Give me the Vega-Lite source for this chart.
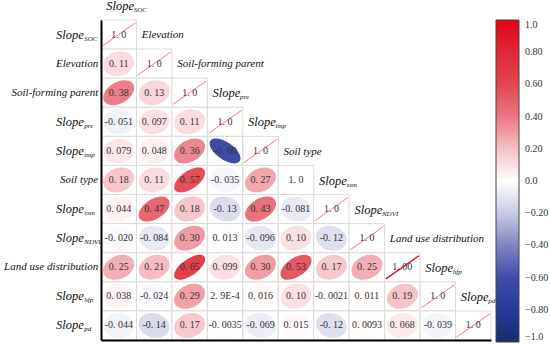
{
  "$schema": "https://vega.github.io/schema/vega-lite/v6.json",
  "width": 390,
  "height": 320,
  "autosize": {"type": "none"},
  "padding": {"left": 101, "top": 20, "right": 59, "bottom": 5},
  "background": "white",
  "config": {
    "view": {"stroke": null},
    "axis": {"ticks": false, "labels": false, "grid": false, "domainColor": "#000", "domainWidth": 2},
    "text": {"font": "Liberation Serif"}
  },
  "datasets": {
    "cells": [
      {"row": "Slope_SOC", "col": "Slope_SOC", "r": 1, "label": "1. 0"},
      {"row": "Elevation", "col": "Slope_SOC", "r": 0.11, "label": "0. 11"},
      {"row": "Elevation", "col": "Elevation", "r": 1, "label": "1. 0"},
      {"row": "Soil-forming parent", "col": "Slope_SOC", "r": 0.38, "label": "0. 38"},
      {"row": "Soil-forming parent", "col": "Elevation", "r": 0.13, "label": "0. 13"},
      {"row": "Soil-forming parent", "col": "Soil-forming parent", "r": 1, "label": "1. 0"},
      {"row": "Slope_pre", "col": "Slope_SOC", "r": -0.051, "label": "-0. 051"},
      {"row": "Slope_pre", "col": "Elevation", "r": 0.097, "label": "0. 097"},
      {"row": "Slope_pre", "col": "Soil-forming parent", "r": 0.11, "label": "0. 11"},
      {"row": "Slope_pre", "col": "Slope_pre", "r": 1, "label": "1. 0"},
      {"row": "Slope_tmp", "col": "Slope_SOC", "r": 0.079, "label": "0. 079"},
      {"row": "Slope_tmp", "col": "Elevation", "r": 0.048, "label": "0. 048"},
      {"row": "Slope_tmp", "col": "Soil-forming parent", "r": 0.36, "label": "0. 36"},
      {"row": "Slope_tmp", "col": "Slope_pre", "r": -0.6, "label": "-0. 60"},
      {"row": "Slope_tmp", "col": "Slope_tmp", "r": 1, "label": "1. 0"},
      {"row": "Soil type", "col": "Slope_SOC", "r": 0.18, "label": "0. 18"},
      {"row": "Soil type", "col": "Elevation", "r": 0.11, "label": "0. 11"},
      {"row": "Soil type", "col": "Soil-forming parent", "r": 0.57, "label": "0. 57"},
      {"row": "Soil type", "col": "Slope_pre", "r": -0.035, "label": "-0. 035"},
      {"row": "Soil type", "col": "Slope_tmp", "r": 0.27, "label": "0. 27"},
      {"row": "Soil type", "col": "Soil type", "r": 1, "label": "1. 0"},
      {"row": "Slope_ssm", "col": "Slope_SOC", "r": 0.044, "label": "0. 044"},
      {"row": "Slope_ssm", "col": "Elevation", "r": 0.47, "label": "0. 47"},
      {"row": "Slope_ssm", "col": "Soil-forming parent", "r": 0.18, "label": "0. 18"},
      {"row": "Slope_ssm", "col": "Slope_pre", "r": -0.13, "label": "-0. 13"},
      {"row": "Slope_ssm", "col": "Slope_tmp", "r": 0.43, "label": "0. 43"},
      {"row": "Slope_ssm", "col": "Soil type", "r": -0.081, "label": "-0. 081"},
      {"row": "Slope_ssm", "col": "Slope_ssm", "r": 1, "label": "1. 0"},
      {"row": "Slope_NDVI", "col": "Slope_SOC", "r": -0.02, "label": "-0. 020"},
      {"row": "Slope_NDVI", "col": "Elevation", "r": -0.084, "label": "-0. 084"},
      {"row": "Slope_NDVI", "col": "Soil-forming parent", "r": 0.3, "label": "0. 30"},
      {"row": "Slope_NDVI", "col": "Slope_pre", "r": 0.013, "label": "0. 013"},
      {"row": "Slope_NDVI", "col": "Slope_tmp", "r": -0.096, "label": "-0. 096"},
      {"row": "Slope_NDVI", "col": "Soil type", "r": 0.1, "label": "0. 10"},
      {"row": "Slope_NDVI", "col": "Slope_ssm", "r": -0.12, "label": "-0. 12"},
      {"row": "Slope_NDVI", "col": "Slope_NDVI", "r": 1, "label": "1. 0"},
      {"row": "Land use distribution", "col": "Slope_SOC", "r": 0.25, "label": "0. 25"},
      {"row": "Land use distribution", "col": "Elevation", "r": 0.21, "label": "0. 21"},
      {"row": "Land use distribution", "col": "Soil-forming parent", "r": 0.65, "label": "0. 65"},
      {"row": "Land use distribution", "col": "Slope_pre", "r": 0.099, "label": "0. 099"},
      {"row": "Land use distribution", "col": "Slope_tmp", "r": 0.3, "label": "0. 30"},
      {"row": "Land use distribution", "col": "Soil type", "r": 0.53, "label": "0. 53"},
      {"row": "Land use distribution", "col": "Slope_ssm", "r": 0.17, "label": "0. 17"},
      {"row": "Land use distribution", "col": "Slope_NDVI", "r": 0.25, "label": "0. 25"},
      {"row": "Land use distribution", "col": "Land use distribution", "r": 1, "label": "1. 00"},
      {"row": "Slope_hfp", "col": "Slope_SOC", "r": 0.038, "label": "0. 038"},
      {"row": "Slope_hfp", "col": "Elevation", "r": -0.024, "label": "-0. 024"},
      {"row": "Slope_hfp", "col": "Soil-forming parent", "r": 0.29, "label": "0. 29"},
      {"row": "Slope_hfp", "col": "Slope_pre", "r": 0.00029, "label": "2. 9E-4"},
      {"row": "Slope_hfp", "col": "Slope_tmp", "r": 0.016, "label": "0. 016"},
      {"row": "Slope_hfp", "col": "Soil type", "r": 0.1, "label": "0. 10"},
      {"row": "Slope_hfp", "col": "Slope_ssm", "r": -0.0021, "label": "-0. 0021"},
      {"row": "Slope_hfp", "col": "Slope_NDVI", "r": 0.011, "label": "0. 011"},
      {"row": "Slope_hfp", "col": "Land use distribution", "r": 0.19, "label": "0. 19"},
      {"row": "Slope_hfp", "col": "Slope_hfp", "r": 1, "label": "1. 0"},
      {"row": "Slope_pd", "col": "Slope_SOC", "r": -0.044, "label": "-0. 044"},
      {"row": "Slope_pd", "col": "Elevation", "r": -0.14, "label": "-0. 14"},
      {"row": "Slope_pd", "col": "Soil-forming parent", "r": 0.17, "label": "0. 17"},
      {"row": "Slope_pd", "col": "Slope_pre", "r": -0.0035, "label": "-0. 0035"},
      {"row": "Slope_pd", "col": "Slope_tmp", "r": -0.069, "label": "-0. 069"},
      {"row": "Slope_pd", "col": "Soil type", "r": 0.015, "label": "0. 015"},
      {"row": "Slope_pd", "col": "Slope_ssm", "r": -0.12, "label": "-0. 12"},
      {"row": "Slope_pd", "col": "Slope_NDVI", "r": 0.0093, "label": "0. 0093"},
      {"row": "Slope_pd", "col": "Land use distribution", "r": 0.068, "label": "0. 068"},
      {"row": "Slope_pd", "col": "Slope_hfp", "r": -0.039, "label": "-0. 039"},
      {"row": "Slope_pd", "col": "Slope_pd", "r": 1, "label": "1. 0"}
    ],
    "vars": [
      {"var": "Slope_SOC", "main": "Slope", "sub": "SOC"},
      {"var": "Elevation", "main": "Elevation", "sub": ""},
      {"var": "Soil-forming parent", "main": "Soil-forming parent", "sub": ""},
      {"var": "Slope_pre", "main": "Slope", "sub": "pre"},
      {"var": "Slope_tmp", "main": "Slope", "sub": "tmp"},
      {"var": "Soil type", "main": "Soil type", "sub": ""},
      {"var": "Slope_ssm", "main": "Slope", "sub": "ssm"},
      {"var": "Slope_NDVI", "main": "Slope", "sub": "NDVI"},
      {"var": "Land use distribution", "main": "Land use distribution", "sub": ""},
      {"var": "Slope_hfp", "main": "Slope", "sub": "hfp"},
      {"var": "Slope_pd", "main": "Slope", "sub": "pd"}
    ]
  },
  "layer": [
    {
      "data": {"name": "cells"},
      "mark": {"type": "rect", "fill": "white", "stroke": "#dadada", "strokeWidth": 1},
      "encoding": {
        "x": {"field": "col", "type": "nominal", "title": null, "scale": {"domain": ["Slope_SOC","Elevation","Soil-forming parent","Slope_pre","Slope_tmp","Soil type","Slope_ssm","Slope_NDVI","Land use distribution","Slope_hfp","Slope_pd"], "paddingInner": 0, "paddingOuter": 0}},
        "y": {"field": "row", "type": "nominal", "title": null, "scale": {"domain": ["Slope_SOC","Elevation","Soil-forming parent","Slope_pre","Slope_tmp","Soil type","Slope_ssm","Slope_NDVI","Land use distribution","Slope_hfp","Slope_pd"], "paddingInner": 0, "paddingOuter": 0}}
      }
    },
    {
      "data": {"name": "cells"},
      "transform": [{"filter": "datum.row != datum.col"}],
      "mark": {
        "type": "point", "filled": true, "opacity": 1, "strokeWidth": 0, "size": 961,
        "shape": {"expr": "'M'+round(10000*sqrt((1+datum.r)/2))/10000+','+round(-8060*sqrt((1+datum.r)/2))/10000+' C'+round(10000*(sqrt((1+datum.r)/2)-0.5523*sqrt((1-datum.r)/2)))/10000+','+round(-8060*(sqrt((1+datum.r)/2)+0.5523*sqrt((1-datum.r)/2)))/10000+' '+round(10000*(0.5523*sqrt((1+datum.r)/2)-sqrt((1-datum.r)/2)))/10000+','+round(-8060*(sqrt((1-datum.r)/2)+0.5523*sqrt((1+datum.r)/2)))/10000+' '+round(-10000*sqrt((1-datum.r)/2))/10000+','+round(-8060*sqrt((1-datum.r)/2))/10000+' C'+round(-10000*(sqrt((1-datum.r)/2)+0.5523*sqrt((1+datum.r)/2)))/10000+','+round(8060*(0.5523*sqrt((1+datum.r)/2)-sqrt((1-datum.r)/2)))/10000+' '+round(-10000*(sqrt((1+datum.r)/2)+0.5523*sqrt((1-datum.r)/2)))/10000+','+round(8060*(sqrt((1+datum.r)/2)-0.5523*sqrt((1-datum.r)/2)))/10000+' '+round(-10000*sqrt((1+datum.r)/2))/10000+','+round(8060*sqrt((1+datum.r)/2))/10000+' C'+round(-10000*(sqrt((1+datum.r)/2)-0.5523*sqrt((1-datum.r)/2)))/10000+','+round(8060*(sqrt((1+datum.r)/2)+0.5523*sqrt((1-datum.r)/2)))/10000+' '+round(-10000*(0.5523*sqrt((1+datum.r)/2)-sqrt((1-datum.r)/2)))/10000+','+round(8060*(sqrt((1-datum.r)/2)+0.5523*sqrt((1+datum.r)/2)))/10000+' '+round(10000*sqrt((1-datum.r)/2))/10000+','+round(8060*sqrt((1-datum.r)/2))/10000+' C'+round(10000*(sqrt((1-datum.r)/2)+0.5523*sqrt((1+datum.r)/2)))/10000+','+round(-8060*(0.5523*sqrt((1+datum.r)/2)-sqrt((1-datum.r)/2)))/10000+' '+round(10000*(sqrt((1+datum.r)/2)+0.5523*sqrt((1-datum.r)/2)))/10000+','+round(-8060*(sqrt((1+datum.r)/2)-0.5523*sqrt((1-datum.r)/2)))/10000+' '+round(10000*sqrt((1+datum.r)/2))/10000+','+round(-8060*sqrt((1+datum.r)/2))/10000+'Z'"}
      },
      "encoding": {
        "x": {"field": "col", "type": "nominal", "title": null, "scale": {"domain": ["Slope_SOC","Elevation","Soil-forming parent","Slope_pre","Slope_tmp","Soil type","Slope_ssm","Slope_NDVI","Land use distribution","Slope_hfp","Slope_pd"], "paddingInner": 0, "paddingOuter": 0}},
        "y": {"field": "row", "type": "nominal", "title": null, "scale": {"domain": ["Slope_SOC","Elevation","Soil-forming parent","Slope_pre","Slope_tmp","Soil type","Slope_ssm","Slope_NDVI","Land use distribution","Slope_hfp","Slope_pd"], "paddingInner": 0, "paddingOuter": 0}},
        "color": {
          "field": "r", "type": "quantitative",
          "scale": {
            "type": "linear",
            "domain": [-1, -0.8, -0.6, -0.4, -0.2, 0, 0.2, 0.4, 0.6, 0.8, 1],
            "range": ["#1b2a6e", "#253b98", "#3f4ca6", "#7e85c2", "#c8cae4", "#ffffff", "#f6c0c6", "#ea7882", "#e2464f", "#e0283a", "#e50014"],
            "interpolate": "rgb"
          },
          "legend": {
            "title": null, "orient": "none", "legendX": 395, "legendY": 0, "direction": "vertical",
            "gradientLength": 322, "gradientThickness": 23, "gradientStrokeColor": "#444", "gradientStrokeWidth": 1,
            "values": [1, 0.8, 0.6, 0.4, 0.2, 0, -0.2, -0.4, -0.6, -0.8, -1],
            "labelExpr": "datum.value == 0 || abs(datum.value) == 1 ? format(datum.value, '.1f') : format(datum.value, '.2f')",
            "labelFont": "Liberation Serif", "labelFontSize": 10, "labelColor": "#333", "labelOffset": 6,
            "labelOverlap": false, "labelBaseline": "middle", "padding": 0
          }
        }
      }
    },
    {
      "data": {"name": "cells"},
      "transform": [{"filter": "datum.row == datum.col && datum.row != 'Soil type'"}],
      "mark": {"type": "point", "filled": false, "opacity": 1, "size": 1089, "shape": "M-1,0.7L1,-0.7"},
      "encoding": {
        "x": {"field": "col", "type": "nominal", "title": null, "scale": {"domain": ["Slope_SOC","Elevation","Soil-forming parent","Slope_pre","Slope_tmp","Soil type","Slope_ssm","Slope_NDVI","Land use distribution","Slope_hfp","Slope_pd"], "paddingInner": 0, "paddingOuter": 0}},
        "y": {"field": "row", "type": "nominal", "title": null, "scale": {"domain": ["Slope_SOC","Elevation","Soil-forming parent","Slope_pre","Slope_tmp","Soil type","Slope_ssm","Slope_NDVI","Land use distribution","Slope_hfp","Slope_pd"], "paddingInner": 0, "paddingOuter": 0}},
        "stroke": {"condition": {"test": "datum.row == 'Land use distribution'", "value": "#d0101e"}, "value": "#f26b73"},
        "strokeWidth": {"condition": {"test": "datum.row == 'Land use distribution'", "value": 1.4}, "value": 0.9}
      }
    },
    {
      "data": {"name": "cells"},
      "mark": {"type": "text", "fontSize": 10, "color": "#333", "baseline": "middle"},
      "encoding": {
        "x": {"field": "col", "type": "nominal", "title": null, "scale": {"domain": ["Slope_SOC","Elevation","Soil-forming parent","Slope_pre","Slope_tmp","Soil type","Slope_ssm","Slope_NDVI","Land use distribution","Slope_hfp","Slope_pd"], "paddingInner": 0, "paddingOuter": 0}},
        "y": {"field": "row", "type": "nominal", "title": null, "scale": {"domain": ["Slope_SOC","Elevation","Soil-forming parent","Slope_pre","Slope_tmp","Soil type","Slope_ssm","Slope_NDVI","Land use distribution","Slope_hfp","Slope_pd"], "paddingInner": 0, "paddingOuter": 0}},
        "text": {"field": "label"}
      }
    },
    {
      "data": {"name": "vars"},
      "transform": [{"filter": "datum.sub == ''"}],
      "mark": {"type": "text", "fontStyle": "italic", "fontSize": 11, "color": "#111", "align": "right", "baseline": "middle", "dx": -20.5},
      "encoding": {
        "x": {"datum": "Slope_SOC", "type": "nominal", "title": null, "scale": {"domain": ["Slope_SOC","Elevation","Soil-forming parent","Slope_pre","Slope_tmp","Soil type","Slope_ssm","Slope_NDVI","Land use distribution","Slope_hfp","Slope_pd"], "paddingInner": 0, "paddingOuter": 0}},
        "y": {"field": "var", "type": "nominal", "title": null, "scale": {"domain": ["Slope_SOC","Elevation","Soil-forming parent","Slope_pre","Slope_tmp","Soil type","Slope_ssm","Slope_NDVI","Land use distribution","Slope_hfp","Slope_pd"], "paddingInner": 0, "paddingOuter": 0}},
        "text": {"field": "main"}
      }
    },
    {
      "data": {"name": "vars"},
      "transform": [{"filter": "datum.sub != ''"}],
      "mark": {"type": "text", "fontStyle": "italic", "fontSize": 12.5, "color": "#111", "align": "right", "baseline": "middle", "dx": -35},
      "encoding": {
        "x": {"datum": "Slope_SOC", "type": "nominal", "title": null, "scale": {"domain": ["Slope_SOC","Elevation","Soil-forming parent","Slope_pre","Slope_tmp","Soil type","Slope_ssm","Slope_NDVI","Land use distribution","Slope_hfp","Slope_pd"], "paddingInner": 0, "paddingOuter": 0}},
        "y": {"field": "var", "type": "nominal", "title": null, "scale": {"domain": ["Slope_SOC","Elevation","Soil-forming parent","Slope_pre","Slope_tmp","Soil type","Slope_ssm","Slope_NDVI","Land use distribution","Slope_hfp","Slope_pd"], "paddingInner": 0, "paddingOuter": 0}},
        "text": {"field": "main"}
      }
    },
    {
      "data": {"name": "vars"},
      "transform": [{"filter": "datum.sub != ''"}],
      "mark": {"type": "text", "fontStyle": "italic", "fontSize": 7, "color": "#111", "align": "left", "baseline": "middle", "dx": -34.5, "dy": 4},
      "encoding": {
        "x": {"datum": "Slope_SOC", "type": "nominal", "title": null, "scale": {"domain": ["Slope_SOC","Elevation","Soil-forming parent","Slope_pre","Slope_tmp","Soil type","Slope_ssm","Slope_NDVI","Land use distribution","Slope_hfp","Slope_pd"], "paddingInner": 0, "paddingOuter": 0}},
        "y": {"field": "var", "type": "nominal", "title": null, "scale": {"domain": ["Slope_SOC","Elevation","Soil-forming parent","Slope_pre","Slope_tmp","Soil type","Slope_ssm","Slope_NDVI","Land use distribution","Slope_hfp","Slope_pd"], "paddingInner": 0, "paddingOuter": 0}},
        "text": {"field": "sub"}
      }
    },
    {
      "data": {"name": "vars"},
      "mark": {"type": "text", "fontStyle": "italic", "color": "#111", "align": "left", "baseline": "middle", "dx": -12.5, "dy": -28.5},
      "encoding": {
        "x": {"field": "var", "type": "nominal", "title": null, "scale": {"domain": ["Slope_SOC","Elevation","Soil-forming parent","Slope_pre","Slope_tmp","Soil type","Slope_ssm","Slope_NDVI","Land use distribution","Slope_hfp","Slope_pd"], "paddingInner": 0, "paddingOuter": 0}},
        "y": {"field": "var", "type": "nominal", "title": null, "scale": {"domain": ["Slope_SOC","Elevation","Soil-forming parent","Slope_pre","Slope_tmp","Soil type","Slope_ssm","Slope_NDVI","Land use distribution","Slope_hfp","Slope_pd"], "paddingInner": 0, "paddingOuter": 0}},
        "size": {"condition": {"test": "datum.sub != ''", "value": 12.5}, "value": 11},
        "text": {"field": "main"}
      }
    },
    {
      "data": {"name": "vars"},
      "transform": [{"filter": "datum.sub != ''"}],
      "mark": {"type": "text", "fontStyle": "italic", "fontSize": 7, "color": "#111", "align": "left", "baseline": "middle", "dx": 15, "dy": -24.5},
      "encoding": {
        "x": {"field": "var", "type": "nominal", "title": null, "scale": {"domain": ["Slope_SOC","Elevation","Soil-forming parent","Slope_pre","Slope_tmp","Soil type","Slope_ssm","Slope_NDVI","Land use distribution","Slope_hfp","Slope_pd"], "paddingInner": 0, "paddingOuter": 0}},
        "y": {"field": "var", "type": "nominal", "title": null, "scale": {"domain": ["Slope_SOC","Elevation","Soil-forming parent","Slope_pre","Slope_tmp","Soil type","Slope_ssm","Slope_NDVI","Land use distribution","Slope_hfp","Slope_pd"], "paddingInner": 0, "paddingOuter": 0}},
        "text": {"field": "sub"}
      }
    }
  ]
}
